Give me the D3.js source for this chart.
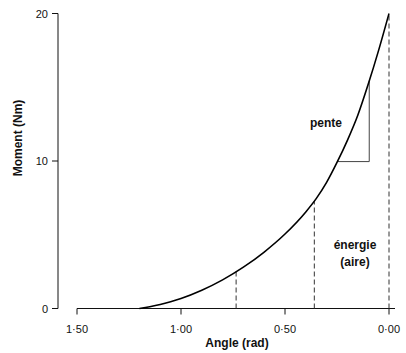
<!DOCTYPE html>
<html><head><meta charset="utf-8">
<script src="https://cdn.jsdelivr.net/npm/d3@7/dist/d3.min.js"></script>
<style>body{margin:0;background:#fff}svg{display:block}</style>
</head><body>
<script>
// Data
const angles  = [1.20, 1.15, 1.10, 1.05, 1.00, 0.90, 0.80, 0.70, 0.60, 0.50, 0.40, 0.35, 0.30, 0.25, 0.20, 0.15, 0.10, 0.05, 0.00];
const moments = [0.00, 0.12, 0.27, 0.46, 0.68, 1.24, 1.94, 2.80, 3.83, 5.05, 6.55, 7.45, 8.55, 9.90, 11.40, 13.10, 15.20, 17.50, 20.0];
const xTicks = [1.5, 1.0, 0.5, 0.0];
const xTickLabels = ["1·50", "1·00", "0·50", "0·00"];
const yTicks = [0, 10, 20];
const dashedAngles = [0.735, 0.359, 0.0];
const slopeFrom = 0.248, slopeTo = 0.095;

const W = 406, H = 353;
const svg = d3.select("body").append("svg").attr("width", W).attr("height", H)
  .style("font-family", "'Liberation Sans', Arial, Helvetica, sans-serif");

const x = d3.scaleLinear().domain([1.5, 0]).range([77, 389]);
const y = d3.scaleLinear().domain([0, 20]).range([308.5, 13.5]);

const pts = angles.map((a, i) => [a, moments[i]]);
const interp = a => {
  for (let i = 0; i < angles.length - 1; i++) {
    if (a <= angles[i] && a >= angles[i + 1]) {
      const t = (angles[i] - a) / (angles[i] - angles[i + 1]);
      return moments[i] + t * (moments[i + 1] - moments[i]);
    }
  }
  return 0;
};

// X axis
const xAxis = svg.append("g").attr("transform", `translate(0,${y(0)})`);
xAxis.append("line").attr("x1", x(1.5)).attr("x2", 395).attr("stroke", "#111").attr("stroke-width", 1);
xAxis.selectAll("line.t").data(xTicks).enter().append("line").attr("class", "t")
  .attr("x1", d => x(d)).attr("x2", d => x(d)).attr("y1", 0).attr("y2", 6)
  .attr("stroke", "#111");
xAxis.selectAll("text").data(xTicks).enter().append("text")
  .attr("x", d => x(d)).attr("y", 24).attr("text-anchor", "middle")
  .attr("font-size", 11).attr("fill", "#111").text((d, i) => xTickLabels[i]);

// Y axis
const yAxis = svg.append("g").attr("transform", `translate(58,0)`);
yAxis.append("line").attr("y1", y(0)).attr("y2", y(20)).attr("stroke", "#111");
yAxis.selectAll("line.t").data(yTicks).enter().append("line").attr("class", "t")
  .attr("x1", -6).attr("x2", 0).attr("y1", d => y(d)).attr("y2", d => y(d)).attr("stroke", "#111");
yAxis.selectAll("text").data(yTicks).enter().append("text")
  .attr("x", -10).attr("y", d => y(d) + 4).attr("text-anchor", "end")
  .attr("font-size", 11).attr("fill", "#111").text(d => d);

// Axis titles
svg.append("text").attr("x", 237).attr("y", 347).attr("text-anchor", "middle")
  .attr("font-size", 12).attr("font-weight", "bold").attr("fill", "#111").text("Angle (rad)");
svg.append("text").attr("transform", "translate(22,138) rotate(-90)").attr("text-anchor", "middle")
  .attr("font-size", 12).attr("font-weight", "bold").attr("fill", "#111").text("Moment (Nm)");

// Dashed lines
svg.selectAll("line.d").data(dashedAngles).enter().append("line").attr("class", "d")
  .attr("x1", d => x(d)).attr("x2", d => x(d))
  .attr("y1", y(0)).attr("y2", d => y(interp(d)))
  .attr("stroke", "#333").attr("stroke-width", 1).attr("stroke-dasharray", "5,3");

// Slope triangle
const m1 = interp(slopeFrom), m2 = interp(slopeTo);
svg.append("path")
  .attr("d", `M${x(slopeFrom)},${y(m1)}H${x(slopeTo)}V${y(m2)}`)
  .attr("fill", "none").attr("stroke", "#444").attr("stroke-width", 1);

// Curve
const line = d3.line().x(d => x(d[0])).y(d => y(d[1])).curve(d3.curveMonotoneX);
svg.append("path").datum(pts).attr("d", line)
  .attr("fill", "none").attr("stroke", "#000").attr("stroke-width", 1.6);

// Annotations
svg.append("text").attr("x", 326).attr("y", 127).attr("text-anchor", "middle")
  .attr("font-size", 12).attr("font-weight", "bold").attr("fill", "#111").text("pente");
svg.append("text").attr("x", 355).attr("y", 249).attr("text-anchor", "middle")
  .attr("font-size", 12).attr("font-weight", "bold").attr("fill", "#111").text("énergie");
svg.append("text").attr("x", 355).attr("y", 266).attr("text-anchor", "middle")
  .attr("font-size", 12).attr("font-weight", "bold").attr("fill", "#111").text("(aire)");
</script>
</body></html>
